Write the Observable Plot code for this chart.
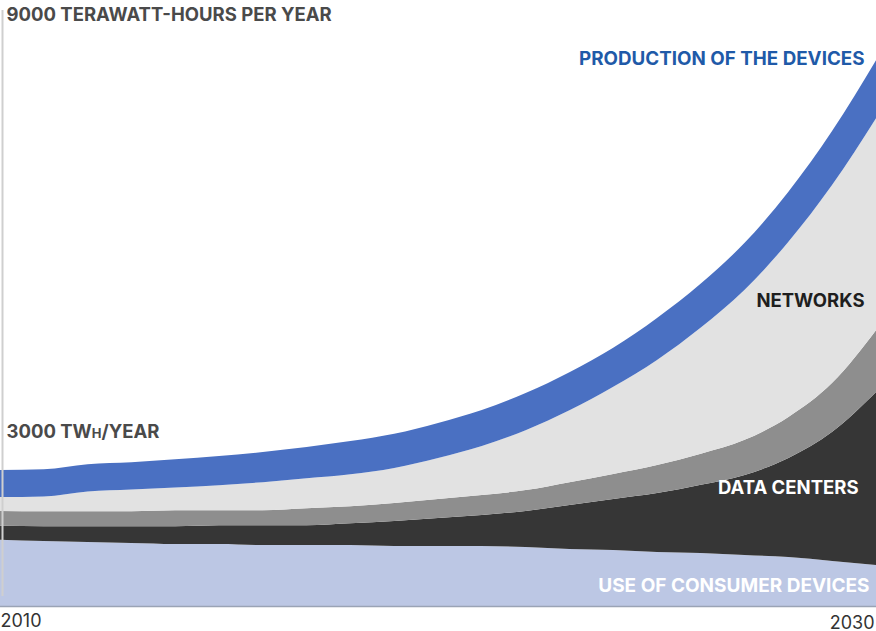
<!DOCTYPE html>
<html><head><meta charset="utf-8">
<script src="https://cdn.jsdelivr.net/npm/d3@7"></script>
<script src="https://cdn.jsdelivr.net/npm/@observablehq/plot@0.6"></script>
<style>body{margin:0;background:#fff}#chart svg{display:block}</style>
</head><body><div id="chart"></div>
<script>
const years = [2010,2011,2012,2013,2014,2015,2016,2017,2018,2019,2020,2021,2022,2023,2024,2025,2026,2027,2028,2029,2030];
const consumerDevices = [1000,980,965,950,935,935,920,920,920,905,905,905,890,860,845,815,800,770,740,680,620];
const dataCenters     = [210,225,240,255,270,285,300,300,330,380,425,470,545,665,770,890,1030,1210,1495,1950,2610];
const networkCore     = [225,225,225,225,240,225,225,255,255,270,285,300,315,345,380,425,470,530,620,740,935];
const networks        = [210,225,300,330,345,380,425,455,485,530,620,740,905,1085,1315,1585,1905,2265,2645,2990,3200];
const production      = [410,410,410,410,425,440,455,470,500,515,530,545,560,575,590,635,665,710,755,815,875];
const seriesNames = ["Use of consumer devices","Data centers","Network core","Networks","Production of the devices"];
const seriesColors = ["#bcc7e4","#363636","#8e8e8e","#e2e2e2","#4a70c2"];
const yMax = 9000;
const yearStart = 2010;
const yearEnd = 2030;
const labelTop = "9000 TERAWATT-HOURS PER YEAR";
const labelMid = "3000 TWH/YEAR";
const labelProduction = "PRODUCTION OF THE DEVICES";
const labelNetworks = "NETWORKS";
const labelDataCenters = "DATA CENTERS";
const labelConsumer = "USE OF CONSUMER DEVICES";

const seriesValues = [consumerDevices, dataCenters, networkCore, networks, production];
const table = [];
seriesNames.forEach((s, i) => years.forEach((yr, j) => table.push({year: yr, series: s, value: seriesValues[i][j]})));

const font = "Inter, Roboto, 'Liberation Sans', sans-serif";
const fs = 18.5;
const chart = Plot.plot({
  width: 876,
  height: 631,
  marginTop: 10,
  marginBottom: 25,
  marginLeft: 0,
  marginRight: 0,
  style: {fontFamily: font, background: "#fff"},
  x: {domain: [yearStart, yearEnd], axis: null},
  y: {domain: [0, yMax], axis: null},
  color: {domain: seriesNames, range: seriesColors},
  marks: [
    Plot.areaY(table, {x: "year", y: "value", z: "series", fill: "series", order: seriesNames, curve: "monotone-x"}),
    Plot.ruleY([0], {stroke: "#9aa3b5", strokeWidth: 1.5}),
    Plot.ruleX([yearStart], {y1: 0, y2: yMax, stroke: "#cfcfcf", strokeWidth: 2, dx: 2, insetTop: -10}),
    Plot.text([labelTop], {frameAnchor: "top-left", dx: 6, dy: -3, text: d => d, textAnchor: "start", fontWeight: "bold", fontSize: fs, fill: "#4a4a4a"}),
    Plot.text([labelMid], {x: yearStart, y: 2640, text: d => d, textAnchor: "start", dx: 6, fontWeight: "bold", fontSize: fs, fill: "#4a4a4a"}),
    Plot.text([labelProduction], {x: yearEnd, y: 8275, text: d => d, textAnchor: "end", dx: -12, fontWeight: "bold", fontSize: 18.8, fill: "#1f5aa8"}),
    Plot.text([labelNetworks], {x: yearEnd, y: 4606, text: d => d, textAnchor: "end", dx: -12, fontWeight: "bold", fontSize: fs, fill: "#1e1e1e"}),
    Plot.text([labelDataCenters], {x: yearEnd, y: 1782, text: d => d, textAnchor: "end", dx: -18, fontWeight: "bold", fontSize: fs, fill: "#ffffff"}),
    Plot.text([labelConsumer], {x: yearEnd, y: 317, text: d => d, textAnchor: "end", dx: -7, fontWeight: "bold", fontSize: 19, fill: "#ffffff"}),
    Plot.text([yearStart], {x: d => d, frameAnchor: "bottom", dy: 20, text: d => String(d), textAnchor: "start", fontSize: 18, fill: "#333"}),
    Plot.text([yearEnd], {x: d => d, frameAnchor: "bottom", dy: 22, text: d => String(d), textAnchor: "end", dx: -2, fontSize: 18, fill: "#333"})
  ]
});
document.getElementById("chart").appendChild(chart);
// small-cap "H" in TWH
d3.select(chart).selectAll("text").filter(function(){ return this.textContent === labelMid; }).each(function(){
  const t = d3.select(this);
  t.text(null);
  t.append("tspan").text("3000 TW");
  t.append("tspan").attr("font-size", 13).text("H");
  t.append("tspan").text("/YEAR");
});
</script>
</body></html>
